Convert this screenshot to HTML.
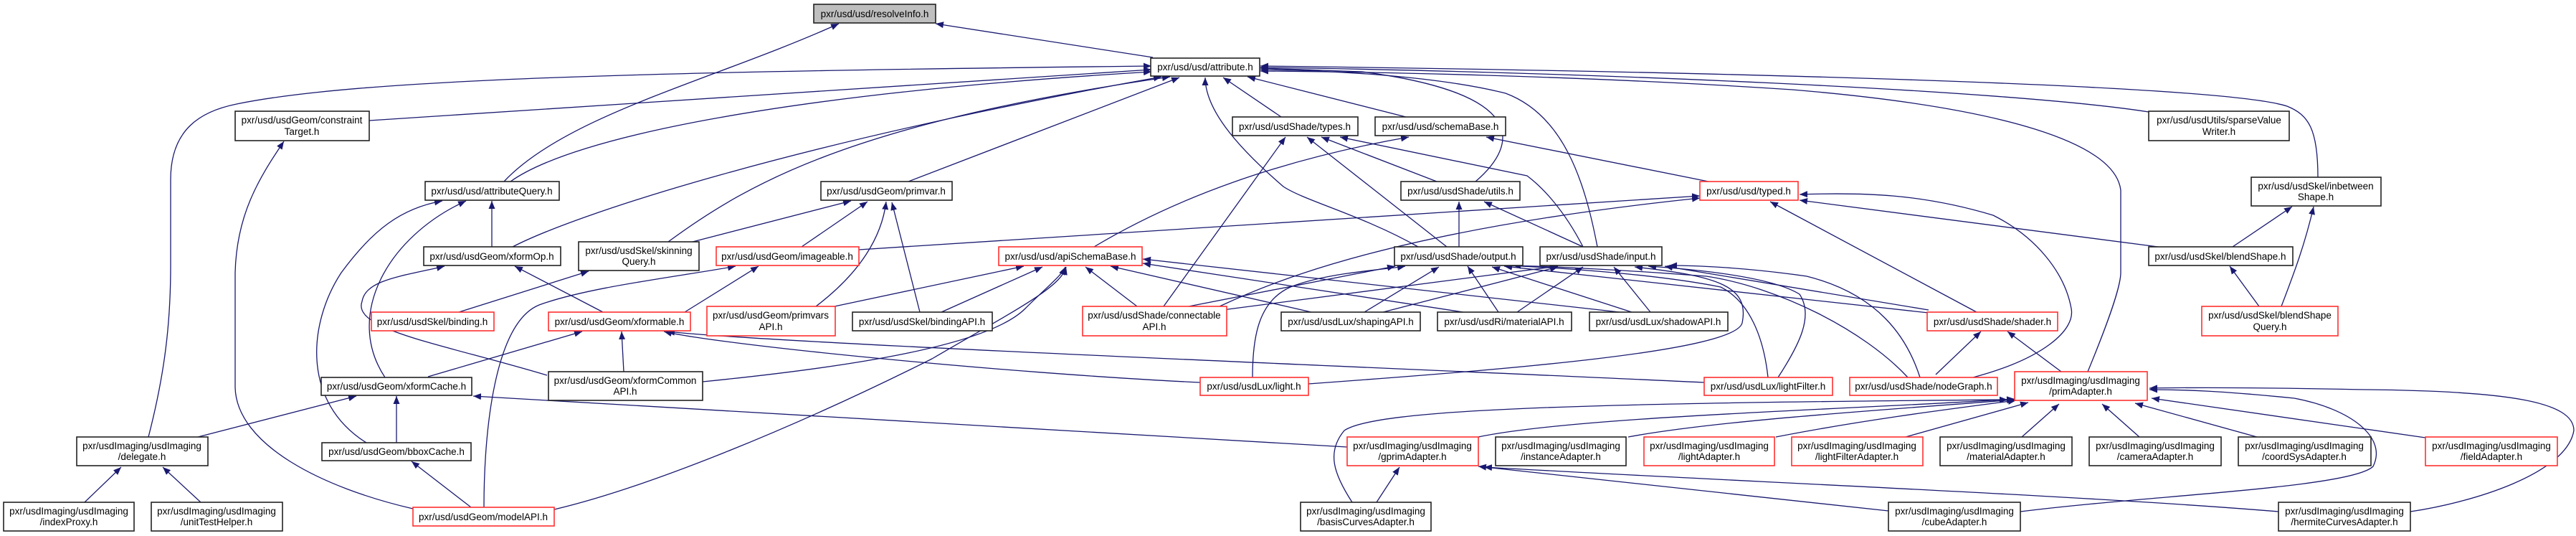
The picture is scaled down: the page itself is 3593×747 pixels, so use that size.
<!DOCTYPE html>
<html><head><meta charset="utf-8"><style>
html,body{margin:0;padding:0;background:#fff;}
svg{display:block;}
text{font-family:"Liberation Sans",Arial,sans-serif;font-size:13.5px;fill:#000;text-anchor:middle;}
.n{fill:#fff;stroke:#222;stroke-width:1.6;}
.r{fill:#fff;stroke:#ff3030;stroke-width:1.6;}
.g{fill:#bfbfbf;stroke:#222;stroke-width:1.6;}
.e{fill:none;stroke:#191970;stroke-width:1.3;marker-end:url(#a);}
</style></head><body>
<svg width="3593" height="747" viewBox="0 0 3593 747" xmlns="http://www.w3.org/2000/svg">
<defs><marker id="a" markerUnits="userSpaceOnUse" markerWidth="11" markerHeight="9" refX="11" refY="4.5" orient="auto"><path d="M0,0 L11,4.5 L0,9 z" fill="#191970"/></marker></defs>
<g>
<path class="e" d="M1608,80 L1305,33"/>
<path class="e" d="M703,253 C790,160 1000,110 1170,33"/>
<path class="e" d="M712,253 C800,190 1100,130 1606,100"/>
<path class="e" d="M515,168 L1606,97"/>
<path class="e" d="M207,609 C230,520 238,450 238,370 L238,250 C238,180 280,155 330,145 C500,110 900,100 1606,92"/>
<path class="e" d="M576,709 C450,680 330,620 328,540 L328,380 C330,300 360,250 396,197"/>
<path class="e" d="M686,344 L686,280"/>
<path class="e" d="M715,344 C800,300 1100,200 1620,107"/>
<path class="e" d="M932,337 C1050,250 1200,170 1632,107"/>
<path class="e" d="M1267,253 L1645,108"/>
<path class="e" d="M1787,163 L1706,108"/>
<path class="e" d="M1961,163 L1740,107"/>
<path class="e" d="M1978,344 C1900,300 1820,280 1790,260 C1720,200 1681,150 1681,108"/>
<path class="e" d="M2058,253 C2120,200 2130,130 1900,100 L1758,95"/>
<path class="e" d="M2228,344 C2210,250 2180,160 2100,130 C2000,105 1850,98 1758,97"/>
<path class="e" d="M2997,156 C2800,125 2200,100 1758,94"/>
<path class="e" d="M3233,247 C3233,180 3220,160 3190,148 C3100,118 2400,100 1758,92"/>
<path class="e" d="M2912,518 C2940,450 2958,400 2958,380 L2958,265 C2950,200 2800,150 2500,125 C2200,105 1900,100 1758,99"/>
<path class="e" d="M2004,253 L1843,191"/>
<path class="e" d="M2018,344 L1823,191"/>
<path class="e" d="M2208,344 C2180,290 2150,260 2130,245 L1869,191"/>
<path class="e" d="M1623,427 L1793,191"/>
<path class="e" d="M1526,344 C1650,270 1800,220 1965,191"/>
<path class="e" d="M2383,253 L2073,191"/>
<path class="e" d="M2035,344 L2035,281"/>
<path class="e" d="M2208,344 L2070,281"/>
<path class="e" d="M1198,348 L2371,273"/>
<path class="e" d="M1701,427 C1780,390 1950,320 2371,276"/>
<path class="e" d="M2757,435 L2469,281"/>
<path class="e" d="M3010,344 L2510,279"/>
<path class="e" d="M2752,526 C2850,500 2895,460 2889,430 C2880,380 2840,330 2780,300 C2680,270 2600,268 2510,271"/>
<path class="e" d="M3114,344 L3197,288"/>
<path class="e" d="M3182,427 C3200,380 3215,340 3227,288"/>
<path class="e" d="M3151,427 L3110,371"/>
<path class="e" d="M966,337 L1187,280"/>
<path class="e" d="M1118,344 L1210,281"/>
<path class="e" d="M1138,427 C1200,380 1230,330 1236,281"/>
<path class="e" d="M1283,435 L1244,282"/>
<path class="e" d="M1164,427 L1428,371"/>
<path class="e" d="M1313,435 L1454,372"/>
<path class="e" d="M980,532 C1200,510 1380,480 1430,430 C1460,400 1480,385 1486,372"/>
<path class="e" d="M773,710 C900,680 1100,600 1300,500 C1420,430 1480,400 1487,372"/>
<path class="e" d="M1586,427 L1514,372"/>
<path class="e" d="M1829,435 L1549,371"/>
<path class="e" d="M2041,435 L1594,367"/>
<path class="e" d="M2259,435 L1594,361"/>
<path class="e" d="M1747,526 C1747,470 1755,420 1800,400 C1850,380 1930,376 1960,371"/>
<path class="e" d="M1658,427 L1946,371"/>
<path class="e" d="M1705,432 L2173,371"/>
<path class="e" d="M1903,435 L2007,372"/>
<path class="e" d="M1929,435 L2173,372"/>
<path class="e" d="M2090,435 L2047,371"/>
<path class="e" d="M2116,435 L2208,372"/>
<path class="e" d="M2276,435 L2081,372"/>
<path class="e" d="M2302,435 L2251,372"/>
<path class="e" d="M2466,526 C2460,470 2440,420 2400,400 C2300,380 2150,372 2098,370"/>
<path class="e" d="M2480,526 C2510,480 2530,440 2510,410 C2470,385 2360,375 2299,371"/>
<path class="e" d="M2690,436 L2098,371"/>
<path class="e" d="M2690,432 L2322,371"/>
<path class="e" d="M2661,526 C2600,460 2480,400 2380,385 C2250,375 2150,371 2110,370"/>
<path class="e" d="M2678,526 C2660,470 2620,410 2520,385 C2430,372 2360,370 2328,370"/>
<path class="e" d="M1825,535 C2100,515 2420,490 2430,450 C2440,400 2400,385 2280,372"/>
<path class="e" d="M2700,522 L2763,462"/>
<path class="e" d="M2875,518 L2800,462"/>
<path class="e" d="M597,525 L812,462"/>
<path class="e" d="M870,518 L867,462"/>
<path class="e" d="M1674,533 C1400,520 1000,480 926,462"/>
<path class="e" d="M2377,533 C2000,515 1100,480 930,462"/>
<path class="e" d="M841,435 L718,371"/>
<path class="e" d="M511,617 C420,560 430,450 476,380 C520,320 560,290 617,280"/>
<path class="e" d="M537,526 C480,440 540,330 650,280"/>
<path class="e" d="M763,523 C620,480 490,460 505,420 C510,390 560,385 620,371"/>
<path class="e" d="M640,435 L821,378"/>
<path class="e" d="M955,435 L1058,371"/>
<path class="e" d="M675,707 C675,600 690,450 752,425 C820,400 950,385 1026,371"/>
<path class="e" d="M276,609 L497,552"/>
<path class="e" d="M553,617 L553,552"/>
<path class="e" d="M1879,623 L660,552"/>
<path class="e" d="M657,707 L574,643"/>
<path class="e" d="M118,700 L169,651"/>
<path class="e" d="M280,700 L227,651"/>
<path class="e" d="M2062,609 C2200,580 2600,570 2810,556"/>
<path class="e" d="M2271,609 C2400,585 2650,570 2810,557"/>
<path class="e" d="M2477,609 C2600,585 2720,570 2812,558"/>
<path class="e" d="M2658,609 L2829,561"/>
<path class="e" d="M1886,700 C1860,660 1850,630 1875,600 C1920,570 2200,562 2800,557"/>
<path class="e" d="M2820,609 L2872,563"/>
<path class="e" d="M2984,609 L2932,563"/>
<path class="e" d="M3148,609 L2978,562"/>
<path class="e" d="M3383,610 L3001,555"/>
<path class="e" d="M2818,713 C3000,690 3280,680 3310,650 C3330,610 3280,570 3200,555 C3100,545 3050,543 2998,543"/>
<path class="e" d="M3362,713 C3450,700 3580,660 3590,600 C3590,560 3500,545 3300,543 C3150,540 3050,540 2998,541"/>
<path class="e" d="M1920,700 L1952,651"/>
<path class="e" d="M2634,712 L2062,650"/>
<path class="e" d="M3178,713 C2900,690 2400,670 2070,651"/>
</g>
<g>
<rect class="g" x="1135" y="6" width="170" height="26"/><text x="1220" y="24">pxr/usd/usd/resolveInfo.h</text>
<rect class="n" x="1605" y="81" width="152" height="25"/><text x="1681" y="98">pxr/usd/usd/attribute.h</text>
<rect class="n" x="328" y="155" width="187" height="41"/><text x="421" y="172">pxr/usd/usdGeom/constraint</text><text x="421" y="188">Target.h</text>
<rect class="n" x="1719" y="163" width="175" height="26"/><text x="1806" y="181">pxr/usd/usdShade/types.h</text>
<rect class="n" x="1918" y="163" width="182" height="26"/><text x="2009" y="181">pxr/usd/usd/schemaBase.h</text>
<rect class="n" x="2997" y="155" width="196" height="41"/><text x="3095" y="172">pxr/usd/usdUtils/sparseValue</text><text x="3095" y="188">Writer.h</text>
<rect class="n" x="593" y="253" width="187" height="26"/><text x="686" y="271">pxr/usd/usd/attributeQuery.h</text>
<rect class="n" x="1145" y="253" width="183" height="26"/><text x="1236" y="271">pxr/usd/usdGeom/primvar.h</text>
<rect class="n" x="1954" y="253" width="166" height="26"/><text x="2037" y="271">pxr/usd/usdShade/utils.h</text>
<rect class="r" x="2371" y="253" width="137" height="26"/><text x="2439" y="271">pxr/usd/usd/typed.h</text>
<rect class="n" x="3140" y="247" width="181" height="40"/><text x="3230" y="264">pxr/usd/usdSkel/inbetween</text><text x="3230" y="279">Shape.h</text>
<rect class="n" x="591" y="344" width="191" height="26"/><text x="686" y="362">pxr/usd/usdGeom/xformOp.h</text>
<rect class="n" x="807" y="337" width="168" height="40"/><text x="891" y="354">pxr/usd/usdSkel/skinning</text><text x="891" y="369">Query.h</text>
<rect class="r" x="999" y="344" width="199" height="26"/><text x="1098" y="362">pxr/usd/usdGeom/imageable.h</text>
<rect class="r" x="1393" y="344" width="200" height="26"/><text x="1493" y="362">pxr/usd/usd/apiSchemaBase.h</text>
<rect class="n" x="1945" y="344" width="179" height="26"/><text x="2034" y="362">pxr/usd/usdShade/output.h</text>
<rect class="n" x="2148" y="344" width="170" height="26"/><text x="2233" y="362">pxr/usd/usdShade/input.h</text>
<rect class="n" x="2997" y="344" width="201" height="26"/><text x="3097" y="362">pxr/usd/usdSkel/blendShape.h</text>
<rect class="r" x="518" y="435" width="171" height="26"/><text x="603" y="453">pxr/usd/usdSkel/binding.h</text>
<rect class="r" x="765" y="435" width="198" height="26"/><text x="864" y="453">pxr/usd/usdGeom/xformable.h</text>
<rect class="r" x="986" y="427" width="179" height="41"/><text x="1075" y="444">pxr/usd/usdGeom/primvars</text><text x="1075" y="460">API.h</text>
<rect class="n" x="1189" y="435" width="195" height="26"/><text x="1286" y="453">pxr/usd/usdSkel/bindingAPI.h</text>
<rect class="r" x="1510" y="427" width="201" height="41"/><text x="1610" y="444">pxr/usd/usdShade/connectable</text><text x="1610" y="460">API.h</text>
<rect class="n" x="1787" y="435" width="194" height="26"/><text x="1884" y="453">pxr/usd/usdLux/shapingAPI.h</text>
<rect class="n" x="2005" y="435" width="187" height="26"/><text x="2098" y="453">pxr/usd/usdRi/materialAPI.h</text>
<rect class="n" x="2217" y="435" width="193" height="26"/><text x="2313" y="453">pxr/usd/usdLux/shadowAPI.h</text>
<rect class="r" x="2688" y="435" width="182" height="26"/><text x="2779" y="453">pxr/usd/usdShade/shader.h</text>
<rect class="r" x="3071" y="427" width="190" height="41"/><text x="3166" y="444">pxr/usd/usdSkel/blendShape</text><text x="3166" y="460">Query.h</text>
<rect class="n" x="765" y="518" width="215" height="40"/><text x="872" y="535">pxr/usd/usdGeom/xformCommon</text><text x="872" y="550">API.h</text>
<rect class="n" x="448" y="526" width="210" height="25"/><text x="553" y="543">pxr/usd/usdGeom/xformCache.h</text>
<rect class="r" x="1674" y="526" width="151" height="25"/><text x="1749" y="543">pxr/usd/usdLux/light.h</text>
<rect class="r" x="2377" y="526" width="179" height="25"/><text x="2466" y="543">pxr/usd/usdLux/lightFilter.h</text>
<rect class="r" x="2580" y="526" width="206" height="25"/><text x="2683" y="543">pxr/usd/usdShade/nodeGraph.h</text>
<rect class="r" x="2810" y="518" width="185" height="40"/><text x="2902" y="535">pxr/usdImaging/usdImaging</text><text x="2902" y="550">/primAdapter.h</text>
<rect class="n" x="107" y="609" width="183" height="40"/><text x="198" y="626">pxr/usdImaging/usdImaging</text><text x="198" y="641">/delegate.h</text>
<rect class="n" x="449" y="617" width="208" height="25"/><text x="553" y="634">pxr/usd/usdGeom/bboxCache.h</text>
<rect class="r" x="1879" y="609" width="183" height="40"/><text x="1970" y="626">pxr/usdImaging/usdImaging</text><text x="1970" y="641">/gprimAdapter.h</text>
<rect class="n" x="2086" y="609" width="182" height="40"/><text x="2177" y="626">pxr/usdImaging/usdImaging</text><text x="2177" y="641">/instanceAdapter.h</text>
<rect class="r" x="2293" y="609" width="182" height="40"/><text x="2384" y="626">pxr/usdImaging/usdImaging</text><text x="2384" y="641">/lightAdapter.h</text>
<rect class="r" x="2499" y="609" width="183" height="40"/><text x="2590" y="626">pxr/usdImaging/usdImaging</text><text x="2590" y="641">/lightFilterAdapter.h</text>
<rect class="n" x="2706" y="609" width="184" height="40"/><text x="2798" y="626">pxr/usdImaging/usdImaging</text><text x="2798" y="641">/materialAdapter.h</text>
<rect class="n" x="2914" y="609" width="184" height="40"/><text x="3006" y="626">pxr/usdImaging/usdImaging</text><text x="3006" y="641">/cameraAdapter.h</text>
<rect class="n" x="3122" y="609" width="185" height="40"/><text x="3214" y="626">pxr/usdImaging/usdImaging</text><text x="3214" y="641">/coordSysAdapter.h</text>
<rect class="r" x="3383" y="609" width="184" height="40"/><text x="3475" y="626">pxr/usdImaging/usdImaging</text><text x="3475" y="641">/fieldAdapter.h</text>
<rect class="n" x="5" y="700" width="182" height="40"/><text x="96" y="717">pxr/usdImaging/usdImaging</text><text x="96" y="732">/indexProxy.h</text>
<rect class="n" x="211" y="700" width="183" height="40"/><text x="302" y="717">pxr/usdImaging/usdImaging</text><text x="302" y="732">/unitTestHelper.h</text>
<rect class="r" x="576" y="707" width="197" height="26"/><text x="674" y="725">pxr/usd/usdGeom/modelAPI.h</text>
<rect class="n" x="1814" y="700" width="182" height="40"/><text x="1905" y="717">pxr/usdImaging/usdImaging</text><text x="1905" y="732">/basisCurvesAdapter.h</text>
<rect class="n" x="2634" y="700" width="184" height="40"/><text x="2726" y="717">pxr/usdImaging/usdImaging</text><text x="2726" y="732">/cubeAdapter.h</text>
<rect class="n" x="3178" y="700" width="184" height="40"/><text x="3270" y="717">pxr/usdImaging/usdImaging</text><text x="3270" y="732">/hermiteCurvesAdapter.h</text>
</g>
</svg>
</body></html>
